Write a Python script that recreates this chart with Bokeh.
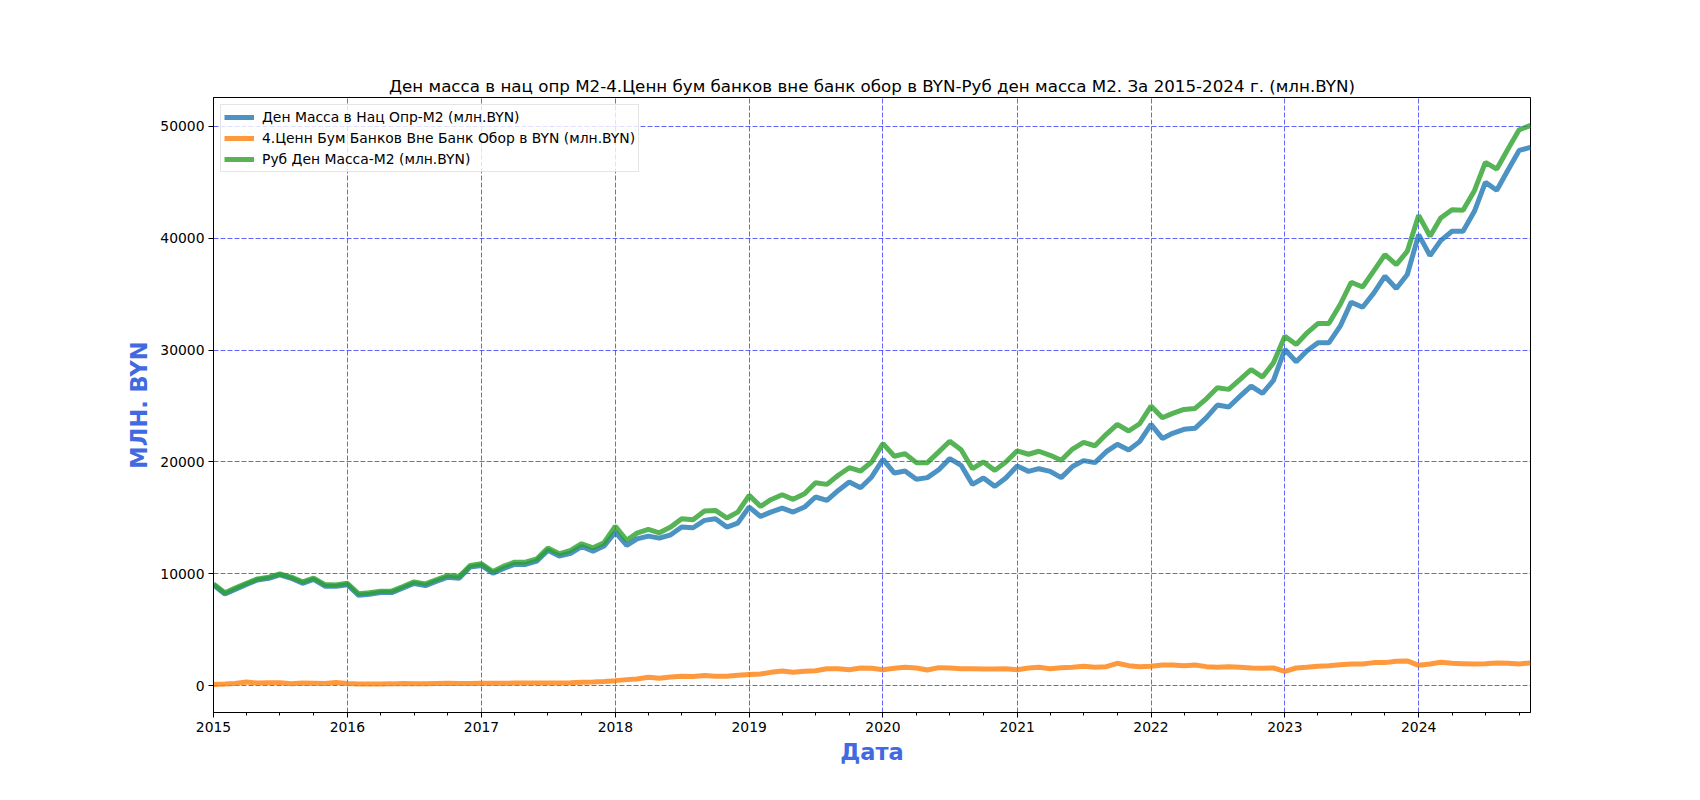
import pandas as pd
from bokeh.plotting import figure
from bokeh.models import (Range1d, FixedTicker, DatetimeTickFormatter, BasicTickFormatter,
                          Legend, LegendItem)
from bokeh.embed import file_html
from bokeh.resources import INLINE

# ---------------- data (monthly, Jan 2015 .. Nov 2024) ----------------
start_month = "2015-01-01"
n_months = 119

m2_nat = [  # Ден Масса в Нац Опр-М2 (млн.BYN)
    9000, 8200, 8600, 9050, 9450, 9600, 9900, 9600, 9150, 9500, 8900, 8880,
    9020, 8080, 8170, 8320, 8320, 8730, 9130, 8950, 9340, 9700, 9610, 10600,
    10750, 10060, 10460, 10840, 10840, 11140, 12100, 11590, 11840, 12440, 12030, 12480,
    13730, 12540, 13130, 13370, 13190, 13490, 14180, 14120, 14780, 14930, 14180, 14540,
    15970, 15130, 15520, 15880, 15520, 15970, 16870, 16570, 17460, 18210, 17700, 18660,
    20240, 19010, 19190, 18450, 18600, 19310, 20300, 19700, 18000, 18570, 17820, 18570,
    19640, 19160, 19400, 19160, 18600, 19600, 20120, 19940, 20920, 21580, 21070, 21820,
    23360, 22110, 22560, 22920, 23010, 23960, 25090, 24910, 25890, 26790, 26130, 27290,
    30060, 28960, 29910, 30650, 30650, 32140, 34290, 33840, 35120, 36610, 35510, 36760,
    40330, 38450, 39790, 40630, 40630, 42410, 45000, 44290, 46130, 47860, 48130,
]

securities = [  # 4.Ценн Бум Банков Вне Банк Обор в BYN (млн.BYN)
    100, 150, 200, 330, 230, 250, 260, 180, 230, 220, 200, 280,
    200, 150, 150, 150, 160, 200, 180, 170, 200, 210, 190, 200,
    220, 210, 220, 230, 230, 240, 240, 230, 260, 300, 330, 380,
    450, 540, 600, 750, 660, 780, 840, 810, 900, 840, 840, 930,
    990, 1040, 1190, 1310, 1190, 1280, 1340, 1520, 1520, 1430, 1580, 1550,
    1430, 1550, 1640, 1580, 1400, 1610, 1580, 1520, 1520, 1490, 1490, 1520,
    1430, 1580, 1640, 1510, 1610, 1640, 1730, 1640, 1700, 2000, 1790, 1700,
    1730, 1850, 1850, 1790, 1850, 1700, 1640, 1700, 1640, 1580, 1550, 1580,
    1280, 1580, 1640, 1730, 1790, 1880, 1940, 1940, 2060, 2060, 2180, 2210,
    1820, 1940, 2090, 2000, 1970, 1940, 1970, 2030, 2000, 1940, 2030,
]

m2_rub = [  # Руб Ден Масса-М2 (млн.BYN)
    9100, 8300, 8720, 9160, 9550, 9700, 10000, 9700, 9280, 9610, 9040, 9010,
    9160, 8210, 8300, 8450, 8450, 8870, 9280, 9100, 9490, 9850, 9760, 10750,
    10900, 10210, 10660, 11040, 11040, 11340, 12300, 11790, 12090, 12690, 12330, 12780,
    14250, 13000, 13640, 13970, 13670, 14180, 14930, 14840, 15610, 15670, 14990, 15520,
    17010, 16030, 16630, 17070, 16660, 17160, 18150, 18000, 18810, 19490, 19190, 20000,
    21640, 20510, 20750, 19940, 19940, 20900, 21850, 21100, 19400, 20000, 19250, 20000,
    20990, 20690, 20960, 20600, 20150, 21160, 21760, 21450, 22470, 23360, 22770, 23420,
    25000, 23960, 24350, 24700, 24790, 25650, 26640, 26490, 27380, 28270, 27590, 28870,
    31250, 30510, 31490, 32380, 32380, 34080, 36070, 35650, 37110, 38540, 37650, 38840,
    42050, 40180, 41820, 42560, 42500, 44260, 46790, 46190, 48010, 49700, 50090,
]

series_names = [
    "Ден Масса в Нац Опр-М2 (млн.BYN)",
    "4.Ценн Бум Банков Вне Банк Обор в BYN (млн.BYN)",
    "Руб Ден Масса-М2 (млн.BYN)",
]
series_colors = ["#1f77b4", "#ff7f0e", "#2ca02c"]
year_ticks = list(range(2015, 2025))
y_ticks = [0, 10000, 20000, 30000, 40000, 50000]

title_text = ("Ден масса в нац опр М2-4.Ценн бум банков вне банк обор в BYN-"
              "Руб ден масса М2. За 2015-2024 г. (млн.BYN)")
x_label = "Дата"
y_label = "МЛН. BYN"

# ---------------- figure ----------------
dates = pd.date_range(start_month, periods=n_months, freq="MS")

all_vals = m2_nat + securities + m2_rub
lo, hi = min(all_vals), max(all_vals)
pad = (hi - lo) * 0.05

FONT = "DejaVu Sans"

p = figure(width=1700, height=800, x_axis_type="datetime",
           output_backend="svg", toolbar_location=None,
           x_range=Range1d(dates[0], dates[-1]),
           y_range=Range1d(lo - pad, hi + pad),
           min_border_left=213, min_border_right=170,
           min_border_top=97, min_border_bottom=88,
           background_fill_color="white", border_fill_color="white")

p.title.text = title_text
p.title.align = "center"
p.title.text_font = FONT
p.title.text_font_style = "normal"
p.title.text_font_size = "16.7px"
p.title.text_color = "black"
p.title.offset = 0
p.title.standoff = 4

p.outline_line_color = "black"
p.outline_line_width = 1
p.outline_line_alpha = 1

ms = lambda d: pd.Timestamp(d).value / 1e6
major = [ms(f"{y}-01-01") for y in year_ticks]
minor = [ms(d) for d in pd.date_range(start_month, dates[-1], freq="QS")]
p.xaxis.ticker = FixedTicker(ticks=major, minor_ticks=minor)
p.xaxis.formatter = DatetimeTickFormatter(
    years="%Y", months="%Y", days="%Y", hours="%Y", hourmin="%Y",
    minutes="%Y", minsec="%Y", seconds="%Y", milliseconds="%Y", microseconds="%Y")
p.yaxis.ticker = FixedTicker(ticks=y_ticks, minor_ticks=[])
p.yaxis.formatter = BasicTickFormatter(use_scientific=False)

for ax in (p.xaxis[0], p.yaxis[0]):
    ax.major_label_text_font = FONT
    ax.major_label_text_font_size = "13.9px"
    ax.major_label_text_color = "black"
    ax.major_tick_in = 0
    ax.major_tick_out = 5
    ax.minor_tick_in = 0
    ax.minor_tick_out = 3
    ax.axis_line_color = "black"
    ax.major_tick_line_color = "black"
    ax.minor_tick_line_color = "black"
    ax.axis_label_text_font = FONT
    ax.axis_label_text_font_style = "bold"
    ax.axis_label_text_font_size = "22.5px"
    ax.axis_label_text_color = "royalblue"
    ax.major_label_standoff = 4

p.xaxis.axis_label = x_label
p.yaxis.axis_label = y_label
p.xaxis.axis_label_standoff = 4
p.yaxis.axis_label_standoff = 5

for g in (p.xgrid[0], p.ygrid[0]):
    g.grid_line_color = "blue"
    g.grid_line_alpha = 0.6
    g.grid_line_dash = "5 2"
    g.grid_line_width = 1

renderers = []
for vals, color in zip([m2_nat, securities, m2_rub], series_colors):
    r = p.line(x=list(dates), y=vals, line_color=color, line_width=5, line_alpha=0.8)
    renderers.append(r)

legend = Legend(items=[LegendItem(label=n, renderers=[r]) for n, r in zip(series_names, renderers)],
                location="top_left")
legend.margin = 7
legend.padding = 3
legend.spacing = 3
legend.glyph_width = 30
legend.glyph_height = 18
legend.label_height = 18
legend.label_standoff = 8
legend.label_text_font = FONT
legend.label_text_font_size = "13.9px"
legend.label_text_color = "black"
legend.border_line_color = "#cccccc"
legend.border_line_width = 1
legend.background_fill_color = "white"
legend.background_fill_alpha = 0.8
p.add_layout(legend)

open("out.html", "w").write(file_html(p, INLINE, title="chart"))
